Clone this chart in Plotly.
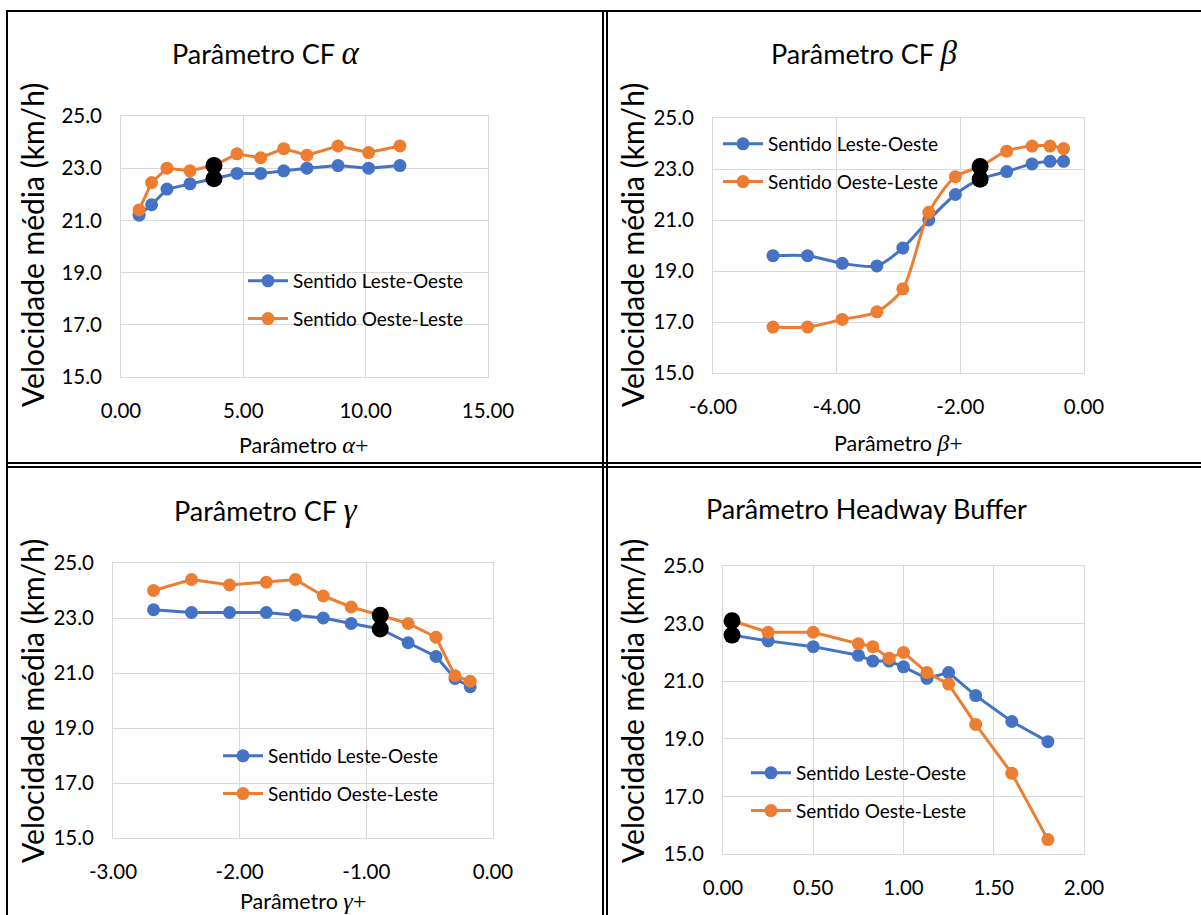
import plotly.graph_objects as go

W, H = 1201, 915

# ---------------- data ----------------
alpha_x = [0.74, 1.25, 1.88, 2.82, 3.80, 4.74, 5.71, 6.65, 7.60, 8.87, 10.12, 11.40]
alpha_lo = [21.2, 21.6, 22.2, 22.4, 22.6, 22.8, 22.8, 22.9, 23.0, 23.1, 23.0, 23.1]
alpha_ol = [21.4, 22.45, 23.0, 22.9, 23.1, 23.55, 23.4, 23.75, 23.5, 23.85, 23.6, 23.85]
alpha_default = 4

beta_x = [-5.03, -4.47, -3.91, -3.35, -2.93, -2.51, -2.08, -1.68, -1.25, -0.84, -0.55, -0.33]
beta_lo = [19.6, 19.6, 19.3, 19.2, 19.9, 21.0, 22.0, 22.6, 22.9, 23.2, 23.3, 23.3]
beta_ol = [16.8, 16.8, 17.1, 17.4, 18.3, 21.3, 22.7, 23.1, 23.7, 23.9, 23.9, 23.8]
beta_default = 7

gamma_x = [-2.68, -2.38, -2.08, -1.79, -1.56, -1.34, -1.12, -0.89, -0.67, -0.45, -0.30, -0.18]
gamma_lo = [23.3, 23.2, 23.2, 23.2, 23.1, 23.0, 22.8, 22.6, 22.1, 21.6, 20.8, 20.5]
gamma_ol = [24.0, 24.4, 24.2, 24.3, 24.4, 23.8, 23.4, 23.1, 22.8, 22.3, 20.9, 20.7]
gamma_default = 7

hb_x = [0.05, 0.25, 0.50, 0.75, 0.83, 0.92, 1.00, 1.13, 1.25, 1.40, 1.60, 1.80]
hb_lo = [22.6, 22.4, 22.2, 21.9, 21.7, 21.7, 21.5, 21.1, 21.3, 20.5, 19.6, 18.9]
hb_ol = [23.1, 22.7, 22.7, 22.3, 22.2, 21.8, 22.0, 21.3, 20.9, 19.5, 17.8, 15.5]
hb_default = 0

series_names = ["Sentido Leste-Oeste", "Sentido Oeste-Leste"]

y_ticks = [15, 17, 19, 21, 23, 25]
y_ticktext = ["15.0", "17.0", "19.0", "21.0", "23.0", "25.0"]

alpha_ticks = [0, 5, 10, 15]
alpha_ticktext = ["0.00", "5.00", "10.00", "15.00"]
beta_ticks = [-6, -4, -2, 0]
beta_ticktext = ["-6.00", "-4.00", "-2.00", "0.00"]
gamma_ticks = [-3, -2, -1, 0]
gamma_ticktext = ["-3.00", "-2.00", "-1.00", "0.00"]
hb_ticks = [0, 0.5, 1.0, 1.5, 2.0]
hb_ticktext = ["0.00", "0.50", "1.00", "1.50", "2.00"]

def greek(ch, size):
    return ("<span style=\"font-family:'Liberation Serif';font-style:italic;font-size:%dpx\">%s</span>"
            % (size, ch))

def plus(size):
    return "<span style=\"font-family:'Liberation Serif';font-size:%dpx\">+</span>" % size

titles = [
    "Parâmetro CF " + greek("α", 33),
    "Parâmetro CF " + greek("β", 33),
    "Parâmetro CF " + greek("γ", 33),
    "Parâmetro Headway Buffer",
]
xtitles = [
    "Parâmetro " + greek("α", 24) + plus(24),
    "Parâmetro " + greek("β", 24) + plus(24),
    "Parâmetro " + greek("γ", 24) + plus(24),
    None,
]
ytitle = "Velocidade média (km/h)"

BLUE = "#4472C4"
ORANGE = "#ED7D31"
FONT = "Lato, 'Open Sans', sans-serif"

# ---------------- layout geometry (pixels) ----------------
panels = [
    dict(x=alpha_x, lo=alpha_lo, ol=alpha_ol, d=alpha_default, xr=[0, 15], tv=alpha_ticks, tt=alpha_ticktext,
         px=(121, 488), py=(116, 377), spline=False, leg=(243, 262)),
    dict(x=beta_x, lo=beta_lo, ol=beta_ol, d=beta_default, xr=[-6, 0], tv=beta_ticks, tt=beta_ticktext,
         px=(713, 1084), py=(118, 373), spline=True, leg=(718, 125)),
    dict(x=gamma_x, lo=gamma_lo, ol=gamma_ol, d=gamma_default, xr=[-3, 0], tv=gamma_ticks, tt=gamma_ticktext,
         px=(113, 493), py=(563, 838), spline=False, leg=(218, 737)),
    dict(x=hb_x, lo=hb_lo, ol=hb_ol, d=hb_default, xr=[0, 2], tv=hb_ticks, tt=hb_ticktext,
         px=(723, 1084), py=(566, 854), spline=False, leg=(746, 754)),
]
title_pos = [(265, 53), (864, 53), (265, 510), (866, 508)]
xtitle_pos = [(304, 445), (898, 443), (303, 901), None]
ytitle_pos = [(32, 245), (632, 245), (32, 701), (632, 701)]

fig = go.Figure()
layout = dict(
    width=W, height=H,
    autosize=False,
    margin=dict(l=0, r=0, t=0, b=0, pad=0, autoexpand=False),
    paper_bgcolor="white", plot_bgcolor="white",
    font=dict(family=FONT, color="black", size=20),
    showlegend=True,
    annotations=[], shapes=[],
)

for i, p in enumerate(panels):
    n = "" if i == 0 else str(i + 1)
    xa, ya = "x" + n, "y" + n
    legname = "legend" + n
    shape = "spline" if p["spline"] else "linear"
    for name, vals, col in [(series_names[0], p["lo"], BLUE), (series_names[1], p["ol"], ORANGE)]:
        fig.add_trace(go.Scatter(
            x=p["x"], y=vals, name=name, mode="lines+markers",
            line=dict(color=col, width=3, shape=shape, smoothing=0.8),
            marker=dict(color=col, size=13),
            xaxis=xa, yaxis=ya, legend=legname, legendgroup=name + n,
        ))
    d = p["d"]
    fig.add_trace(go.Scatter(
        x=[p["x"][d], p["x"][d]], y=[p["lo"][d], p["ol"][d]], mode="markers",
        marker=dict(color="black", size=17), showlegend=False,
        xaxis=xa, yaxis=ya,
    ))
    x0, x1 = p["px"]
    y0, y1 = p["py"]
    common = dict(showgrid=True, gridcolor="#D9D9D9", gridwidth=1,
                  showline=True, linecolor="#D9D9D9", linewidth=1, mirror=True,
                  zeroline=False, ticks="", tickfont=dict(size=20.5, color="black", family=FONT),
                  fixedrange=True, automargin=False)
    layout["xaxis" + n] = dict(common, domain=[x0 / W, x1 / W], range=p["xr"],
                               tickvals=p["tv"], ticktext=p["tt"], anchor=ya, ticklabelstandoff=15)
    layout["yaxis" + n] = dict(common, domain=[1 - y1 / H, 1 - y0 / H], range=[15, 25],
                               tickvals=y_ticks, ticktext=y_ticktext, anchor=xa, ticklabelstandoff=14)
    lx, ly = p["leg"]
    layout[legname] = dict(x=lx / W, y=1 - ly / H, xanchor="left", yanchor="top",
                           xref="paper", yref="paper",
                           bgcolor="rgba(0,0,0,0)", borderwidth=0,
                           font=dict(size=19, color="black", family=FONT),
                           tracegroupgap=10, itemwidth=40)
    tx, ty = title_pos[i]
    layout["annotations"].append(dict(text=titles[i], x=tx / W, y=1 - ty / H, xref="paper", yref="paper",
                                      showarrow=False, xanchor="center", yanchor="middle",
                                      font=dict(size=27, color="black", family=FONT)))
    if xtitles[i]:
        ax_, ay_ = xtitle_pos[i]
        layout["annotations"].append(dict(text=xtitles[i], x=ax_ / W, y=1 - ay_ / H, xref="paper", yref="paper",
                                          showarrow=False, xanchor="center", yanchor="middle",
                                          font=dict(size=21.5, color="black", family=FONT)))
    yx, yy = ytitle_pos[i]
    layout["annotations"].append(dict(text=ytitle, x=yx / W, y=1 - yy / H, xref="paper", yref="paper",
                                      showarrow=False, xanchor="center", yanchor="middle", textangle=-90,
                                      font=dict(size=30, color="black", family=FONT)))

# panel frame lines (decorative borders)
def hline(y, x0=6, x1=W):
    return dict(type="line", xref="paper", yref="paper", x0=x0 / W, x1=x1 / W, y0=1 - y / H, y1=1 - y / H,
                line=dict(color="black", width=2))

def vline(x, y0=10, y1=H):
    return dict(type="line", xref="paper", yref="paper", x0=x / W, x1=x / W, y0=1 - y0 / H, y1=1 - y1 / H,
                line=dict(color="black", width=2))

layout["shapes"] = [hline(11), vline(7), vline(603), vline(607), hline(463), hline(467)]

fig.update_layout(**layout)
fig.write_html("out.html", config={"responsive": False, "displayModeBar": False},
               post_script="document.body.style.margin='0';document.body.style.overflow='hidden';")
